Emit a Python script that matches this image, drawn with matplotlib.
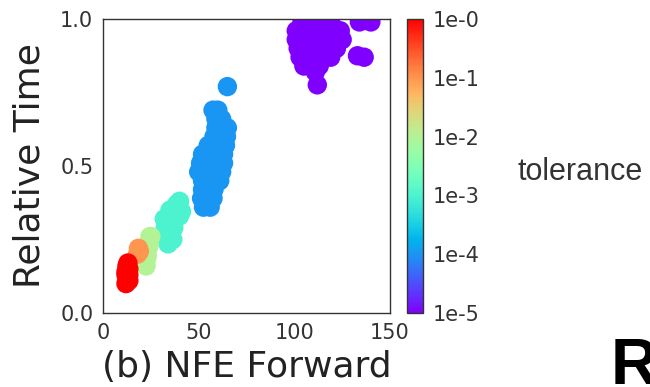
import matplotlib
matplotlib.use("Agg")
import matplotlib.pyplot as plt
from matplotlib.colors import LogNorm
from matplotlib.cm import ScalarMappable

plt.rcParams['font.family'] = ['DejaVu Sans']

# tolerances for each cluster of runs
tolerances = [1e-5, 1e-4, 1e-3, 1e-2, 1e-1, 1e0]

# NFE forward / relative time per tolerance
nfe_1e5 = [104, 108, 112, 116, 119,
           101, 105, 109, 113, 117, 121, 124,
           101, 105, 109, 113, 117, 121, 125,
           102, 106, 110, 114, 118, 122,
           103, 107, 111, 115, 119,
           105, 109, 113, 111, 112,
           133, 136.5, 134, 137, 140]
time_1e5 = [0.99, 0.99, 0.99, 0.99, 0.99,
            0.96, 0.96, 0.96, 0.96, 0.96, 0.96, 0.96,
            0.93, 0.93, 0.93, 0.93, 0.93, 0.93, 0.93,
            0.90, 0.90, 0.90, 0.90, 0.90, 0.90,
            0.87, 0.87, 0.87, 0.87, 0.87,
            0.84, 0.84, 0.84, 0.82, 0.776,
            0.875, 0.87, 0.99, 0.995, 0.99]

nfe_1e4 = [52.5, 56,
           51.5, 54.5, 57.5,
           52, 55, 58,
           52, 55, 58, 61,
           50, 53, 56, 59, 62,
           51, 54, 57, 60, 63,
           52, 55, 58, 61, 63,
           55, 58, 61, 64,
           58, 61, 64.5,
           59, 62, 65,
           59, 62,
           57.5, 60,
           65]
time_1e4 = [0.36, 0.36,
            0.39, 0.39, 0.39,
            0.42, 0.42, 0.42,
            0.45, 0.45, 0.45, 0.45,
            0.48, 0.48, 0.48, 0.48, 0.48,
            0.51, 0.51, 0.51, 0.51, 0.51,
            0.54, 0.54, 0.54, 0.54, 0.54,
            0.57, 0.57, 0.57, 0.57,
            0.60, 0.60, 0.60,
            0.63, 0.63, 0.63,
            0.66, 0.66,
            0.69, 0.69,
            0.77]

nfe_1e3 = [34, 33, 35.5, 36.5, 32.5, 35, 37, 32, 34.5, 37, 40, 35, 38, 41, 38.5, 40]
time_1e3 = [0.235, 0.26, 0.26, 0.25, 0.29, 0.29, 0.29, 0.32, 0.32, 0.32, 0.33,
            0.35, 0.35, 0.345, 0.37, 0.38]

nfe_1e2 = [22.5, 22.5, 23, 23.5, 24, 24.5, 25, 23, 24]
time_1e2 = [0.16, 0.18, 0.20, 0.22, 0.24, 0.26, 0.26, 0.19, 0.23]

nfe_1e1 = [18, 19, 18.5]
time_1e1 = [0.20, 0.21, 0.22]

nfe_1e0 = [12, 13, 12.5, 13.5, 12, 13, 13.5, 12.5, 13, 12, 13, 13.5]
time_1e0 = [0.10, 0.11, 0.12, 0.13, 0.14, 0.15, 0.15, 0.16, 0.17, 0.13, 0.12, 0.11]

xticks = [0, 50, 100, 150]
yticks = [0.0, 0.5, 1.0]
cbar_labels = ['1e-5', '1e-4', '1e-3', '1e-2', '1e-1', '1e-0']

clusters = [(nfe_1e5, time_1e5), (nfe_1e4, time_1e4), (nfe_1e3, time_1e3),
            (nfe_1e2, time_1e2), (nfe_1e1, time_1e1), (nfe_1e0, time_1e0)]

fig = plt.figure(figsize=(6.5, 3.87), dpi=100)
ax = fig.add_axes([0.1585, 0.1912, 0.4415, 0.7597])
cax = fig.add_axes([0.626, 0.1912, 0.0246, 0.7597])

norm = LogNorm(vmin=1e-5, vmax=1e0)
cmap = plt.get_cmap('rainbow')

for tol, (x, y) in zip(tolerances, clusters):
    ax.scatter(x, y, s=195, c=[tol] * len(x), cmap=cmap, norm=norm,
               linewidths=0, clip_on=True)

ax.set_xlim(0, 150)
ax.set_ylim(0, 1.0)
ax.set_xticks(xticks)
ax.set_yticks(yticks)
ax.set_yticklabels(['%.1f' % v for v in yticks])
ax.tick_params(length=0, pad=7, labelsize=15, labelcolor='#333333')
for sp in ax.spines.values():
    sp.set_color('#333333')
    sp.set_linewidth(1.0)

ax.set_xlabel('(b) NFE Forward', fontsize=26, color='#222222', labelpad=5)
ax.set_ylabel('Relative Time', fontsize=26, color='#222222', labelpad=10)

sm = ScalarMappable(norm=norm, cmap=cmap)
cb = fig.colorbar(sm, cax=cax)
cb.set_ticks(tolerances)
cb.set_ticklabels(cbar_labels)
cb.ax.minorticks_off()
cb.ax.tick_params(length=0, pad=7, labelsize=15, labelcolor='#333333')
cb.outline.set_edgecolor('#333333')
cb.outline.set_linewidth(1.0)

fig.text(517 / 650, 1 - 172 / 387, 'tolerance', fontsize=22, family='Liberation Sans',
         color='#333333', va='center', ha='left')
fig.text(611 / 650, 1 - 384 / 387, 'R', fontsize=47, family='Liberation Sans',
         fontweight='bold', color='black', va='baseline', ha='left')

fig.savefig('out.png', dpi=100)
